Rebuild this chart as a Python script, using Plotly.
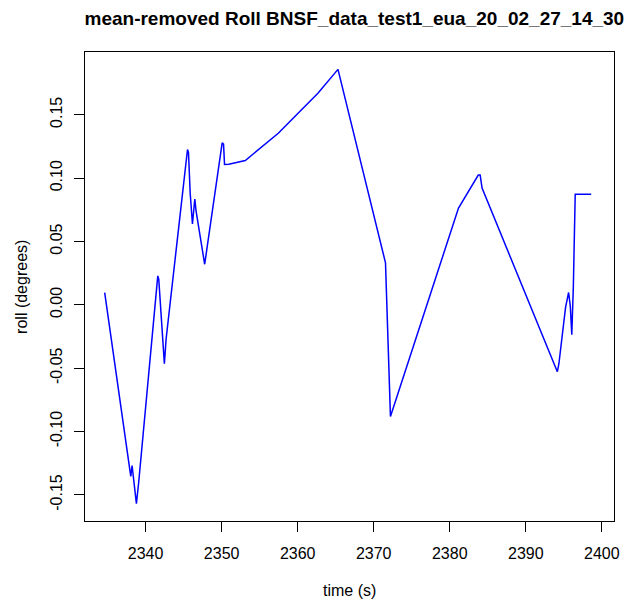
import plotly.graph_objects as go

# Mean-removed roll trace over the run
time_s = [
    2334.62, 2337.92, 2338.05, 2338.22, 2338.52, 2338.74, 2338.79, 2339.09,
    2341.60, 2341.73, 2342.04, 2342.47, 2342.70, 2342.90, 2344.00, 2345.51,
    2345.64, 2345.86, 2346.16, 2346.47, 2346.64, 2347.77, 2350.07, 2350.25,
    2350.38, 2350.94, 2353.11, 2354.84, 2357.45, 2360.05, 2362.66, 2365.30,
    2371.55, 2372.20, 2381.15, 2383.75, 2384.00, 2384.25, 2394.15, 2394.35,
    2394.75, 2395.23, 2395.63, 2395.85, 2396.05, 2396.25, 2396.50, 2398.60,
]
roll_deg = [
    0.0097, -0.1307, -0.1354, -0.1268, -0.1450, -0.1535, -0.1569, -0.1402,
    0.0228, 0.0202, -0.0047, -0.0465, -0.0268, -0.0165, 0.0412, 0.1226,
    0.1200, 0.0884, 0.0638, 0.0835, 0.0740, 0.0320, 0.1278, 0.1268,
    0.1108, 0.1110, 0.1139, 0.1226, 0.1354, 0.1512, 0.1669, 0.1858,
    0.0331, -0.0882, 0.0764, 0.1024, 0.1024, 0.0921, -0.0528, -0.0467,
    -0.0244, -0.0021, 0.0097, -0.0008, -0.0236, 0.0136, 0.0872, 0.0872,
]

x_ticks = [2340, 2350, 2360, 2370, 2380, 2390, 2400]
y_ticks = [-0.15, -0.10, -0.05, 0.00, 0.05, 0.10, 0.15]
y_tick_text = ["-0.15", "-0.10", "-0.05", "0.00", "0.05", "0.10", "0.15"]

title_text = "mean-removed Roll BNSF_data_test1_eua_20_02_27_14_30"

FONT = "Liberation Sans, Arial, sans-serif"

# axis limits
x_range = [2332.03, 2401.6]
y_pad = 0.04 * (max(roll_deg) - min(roll_deg))
y_range = [min(roll_deg) - y_pad, max(roll_deg) + y_pad]

# plot frame in pixels
L, R, T, B = 85.3, 5, 52, 82
W, H = 625, 603
plot_w = W - L - R
plot_h = H - T - B

fig = go.Figure()
fig.add_trace(go.Scatter(
    x=time_s, y=roll_deg, mode="lines",
    line=dict(color="#0000ff", width=1.5),
    showlegend=False, hoverinfo="skip",
))

axis_common = dict(
    showgrid=False, zeroline=False,
    showline=True, linecolor="#000000", linewidth=1, mirror=True,
    ticks="outside", ticklen=10, tickwidth=1, tickcolor="#000000",
    tickfont=dict(family=FONT, size=16, color="#000000"),
    ticklabeloverflow="allow",
)

fig.update_layout(
    width=W, height=H,
    margin=dict(l=L, r=R, t=T, b=B, pad=0),
    paper_bgcolor="white", plot_bgcolor="white",
    font=dict(family=FONT, size=16, color="#000000"),
    title=dict(
        text="<b>" + title_text + "</b>",
        x=84.5 / W, xanchor="left", xref="container",
        y=1 - 18 / H, yanchor="middle", yref="container",
        font=dict(family=FONT, size=19, color="#000000"),
    ),
    xaxis=dict(
        range=x_range,
        tickmode="array", tickvals=x_ticks,
        ticklabelstandoff=8,
        **axis_common,
    ),
    yaxis=dict(
        range=y_range,
        tickmode="array", tickvals=y_ticks, ticktext=y_tick_text,
        tickangle=-90, ticklabelstandoff=6,
        **axis_common,
    ),
    annotations=[
        dict(text="time (s)", xref="paper", yref="paper",
             x=0.5, y=-(590 - (H - B)) / plot_h, xanchor="center", yanchor="middle",
             showarrow=False, font=dict(family=FONT, size=16, color="#000000")),
        dict(text="roll (degrees)", xref="paper", yref="paper",
             x=-(L - 21) / plot_w, y=0.5, xanchor="center", yanchor="middle",
             textangle=-90, showarrow=False,
             font=dict(family=FONT, size=16, color="#000000")),
    ],
)

fig.write_html("out.html")
